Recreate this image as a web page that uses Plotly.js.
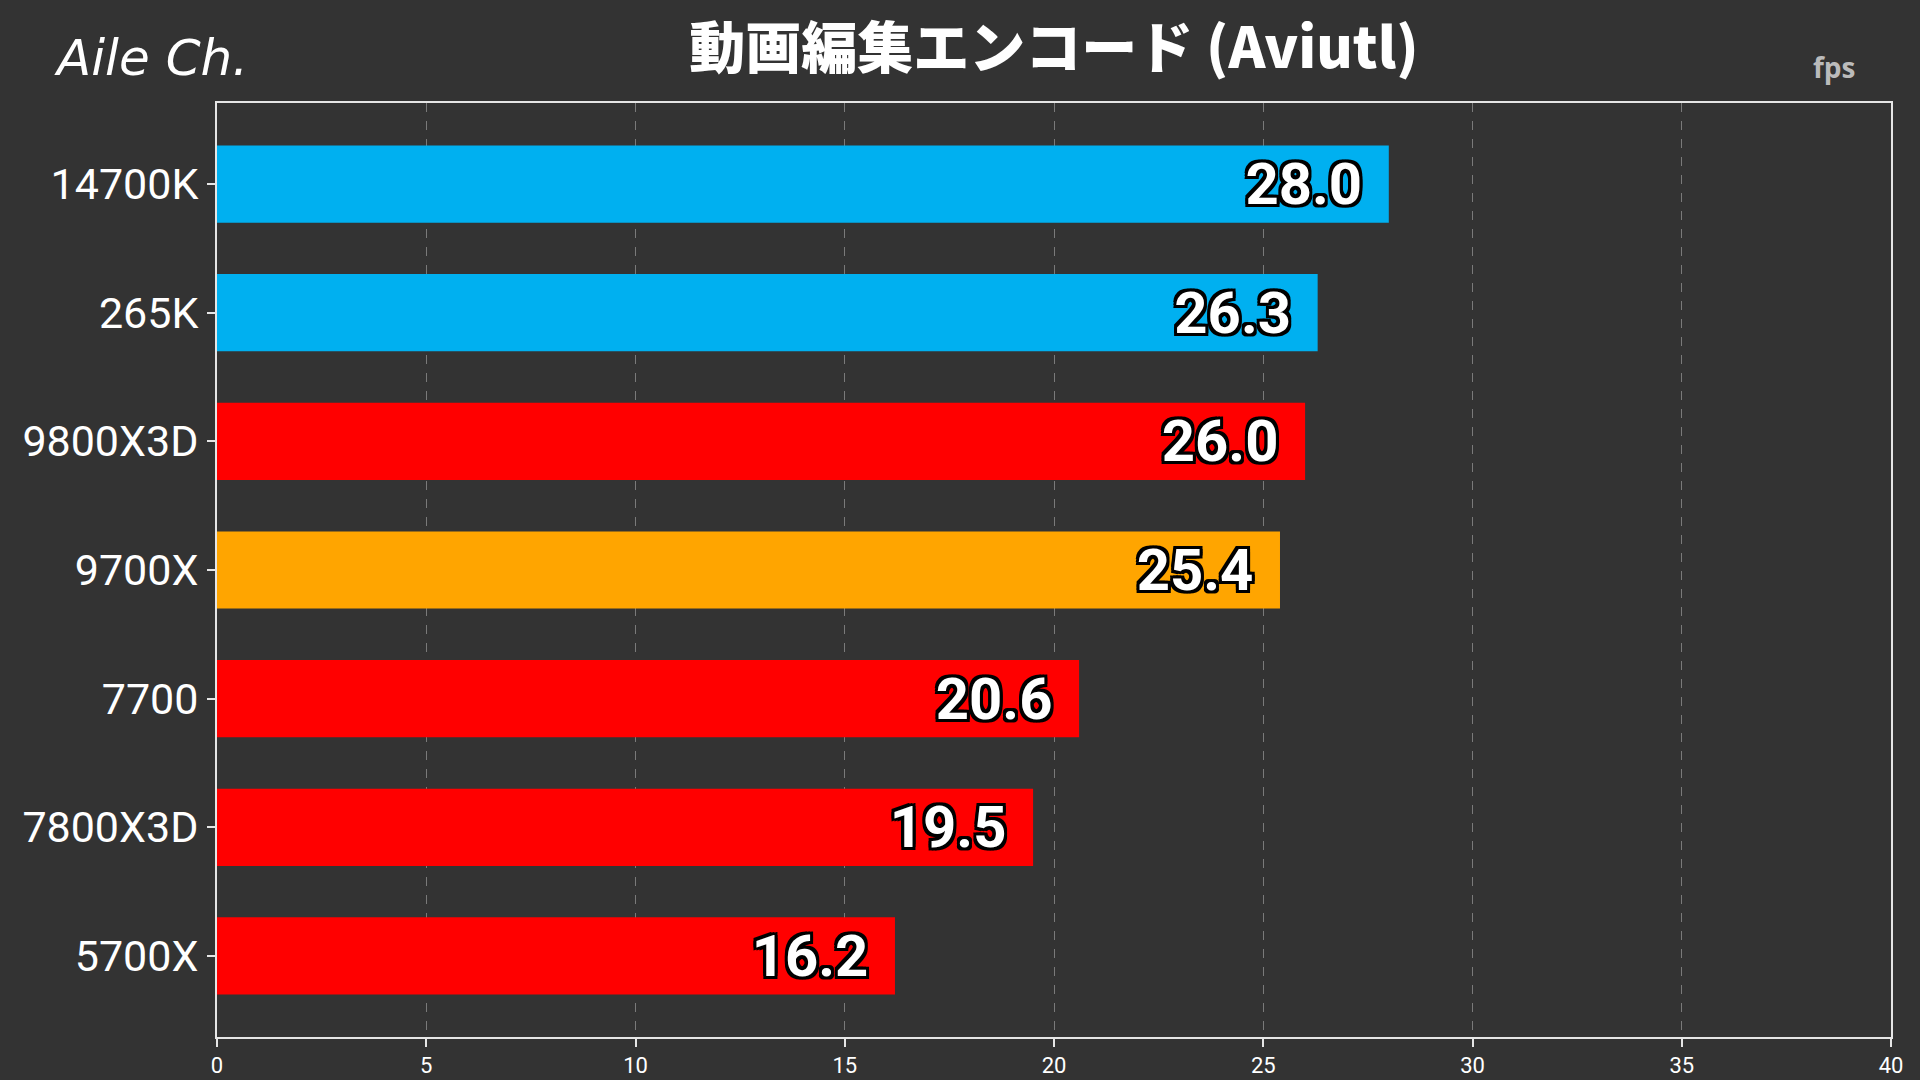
<!DOCTYPE html>
<html>
<head>
<meta charset="utf-8">
<script src="https://cdn.plot.ly/plotly-3.0.1.min.js"></script>
<style>
html,body{margin:0;padding:0;background:#333333;}
#chart{width:1920px;height:1080px;}
</style>
</head>
<body>
<div id="chart"></div>
<script>
const categories = ["14700K", "265K", "9800X3D", "9700X", "7700", "7800X3D", "5700X"];
const values = [28.0, 26.3, 26.0, 25.4, 20.6, 19.5, 16.2];
const barColors = ["#00B0F0", "#00B0F0", "#FF0000", "#FFA500", "#FF0000", "#FF0000", "#FF0000"];
const xTicks = [0, 5, 10, 15, 20, 25, 30, 35, 40];
const titleText = "動画編集エンコード (Aviutl)";
const unitText = "fps";
const logoText = "Aile Ch.";

const outline = "-3px -3px 0 #000, 3px -3px 0 #000, -3px 3px 0 #000, 3px 3px 0 #000, 0 3px 0 #000, 0 -3px 0 #000, 3px 0 0 #000, -3px 0 0 #000";

const trace = {
  type: "bar",
  orientation: "h",
  y: categories,
  x: values,
  width: 0.6,
  marker: {color: barColors, line: {width: 0}},
  text: values.map(v => v.toFixed(1) + "\u2009\u2009"),
  textposition: "inside",
  insidetextanchor: "end",
  constraintext: "none",
  cliponaxis: false,
  textfont: {family: "Roboto, sans-serif", size: 58, color: "#FFFFFF", weight: 700, shadow: outline},
  hoverinfo: "none"
};

const layout = {
  width: 1920,
  height: 1080,
  paper_bgcolor: "#333333",
  plot_bgcolor: "#333333",
  margin: {l: 217, r: 29, t: 103, b: 43},
  showlegend: false,
  title: {
    text: titleText,
    font: {family: "'Noto Sans CJK JP', sans-serif", size: 56, color: "#FFFFFF", weight: 900},
    xref: "paper", x: 0.5, xanchor: "center",
    yref: "container", y: 0.955, yanchor: "middle"
  },
  xaxis: {
    range: [0, 40],
    tickvals: xTicks,
    ticktext: xTicks.map(String),
    showgrid: true,
    gridcolor: "#7a7a7a",
    griddash: "dash",
    gridwidth: 1,
    zeroline: false,
    showline: true,
    linecolor: "#E6E6E6",
    linewidth: 2,
    mirror: true,
    ticks: "outside",
    ticklen: 8,
    tickwidth: 2,
    tickcolor: "#E6E6E6",
    tickfont: {family: "Roboto, sans-serif", size: 22, color: "#FFFFFF"},
    fixedrange: true
  },
  yaxis: {
    type: "category",
    categoryorder: "array",
    categoryarray: categories,
    range: [6.63, -0.63],
    showgrid: false,
    zeroline: false,
    showline: true,
    linecolor: "#E6E6E6",
    linewidth: 2,
    mirror: true,
    ticks: "outside",
    ticklen: 8,
    tickwidth: 2,
    tickcolor: "#E6E6E6",
    tickfont: {family: "Roboto, sans-serif", size: 43, color: "#FFFFFF"},
    fixedrange: true
  },
  annotations: [
    {
      text: logoText,
      xref: "paper", yref: "paper",
      x: -0.0986, y: 1.048, xanchor: "left", yanchor: "middle",
      showarrow: false,
      font: {family: "'DejaVu Sans', sans-serif", size: 50, color: "#FFFFFF", style: "italic", weight: 300}
    },
    {
      text: unitText,
      xref: "paper", yref: "paper",
      x: 0.966, y: 1.0385, xanchor: "center", yanchor: "middle",
      showarrow: false,
      font: {family: "'Open Sans', sans-serif", size: 28, color: "#BBBBBB", weight: 700}
    }
  ]
};

Plotly.newPlot("chart", [trace], layout, {displayModeBar: false, staticPlot: true});
</script>
</body>
</html>
